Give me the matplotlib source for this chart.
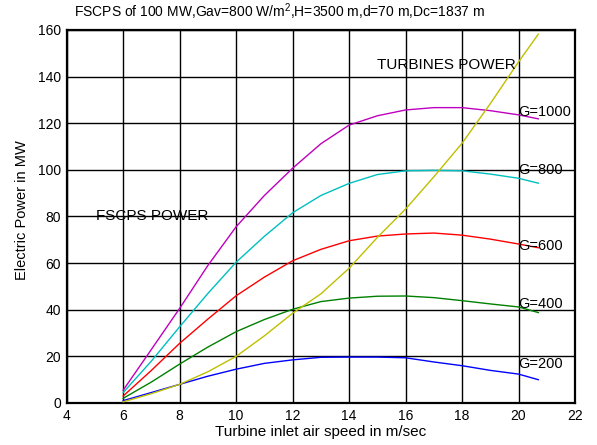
import matplotlib
matplotlib.use("Agg")
import matplotlib.pyplot as plt

plt.rcParams['font.family'] = ['Liberation Sans', 'DejaVu Sans']
plt.rcParams['mathtext.default'] = 'regular'

speed = [6, 7, 8, 9, 10, 11, 12, 13, 14, 15, 16, 17, 18, 19, 20, 20.7]
g200 = [1.0, 4.5, 8.0, 11.5, 14.5, 17.0, 18.5, 19.6, 19.7, 19.7, 19.4, 17.6, 16.0, 14.0, 12.4, 10.0]
g400 = [2.0, 9.0, 16.7, 24.0, 30.6, 35.8, 40.2, 43.5, 45.0, 45.8, 45.9, 45.2, 43.9, 42.5, 41.2, 38.8]
g600 = [3.0, 14.0, 25.6, 36.0, 46.0, 54.0, 61.0, 65.9, 69.6, 71.6, 72.5, 72.9, 72.0, 70.3, 68.2, 66.6]
g800 = [4.5, 18.0, 32.7, 47.0, 60.4, 71.5, 81.6, 89.0, 94.2, 98.0, 99.6, 99.8, 99.6, 98.2, 96.4, 94.3]
g1000 = [5.5, 23.0, 40.6, 59.0, 75.6, 89.0, 100.7, 111.2, 119.2, 123.2, 125.7, 126.7, 126.7, 125.4, 123.6, 121.9]
turbines = [0.5, 4.0, 8.0, 13.4, 20.0, 28.8, 38.5, 46.8, 57.8, 71.0, 83.2, 97.0, 111.4, 128.4, 146.3, 158.2]

series = [(g200, (0, 0, 1)), (g400, (0, 0.5, 0)), (g600, (1, 0, 0)),
          (g800, (0, 0.75, 0.75)), (g1000, (0.75, 0, 0.75)), (turbines, (0.75, 0.75, 0))]

g_labels = ['G=200', 'G=400', 'G=600', 'G=800', 'G=1000']
g_label_y = [16.7, 42.5, 67.4, 100.0, 124.8]

xticks = [4, 6, 8, 10, 12, 14, 16, 18, 20, 22]
yticks = [0, 20, 40, 60, 80, 100, 120, 140, 160]

fig = plt.figure(figsize=(5.97, 4.45), dpi=100)
ax = fig.add_axes([66.7 / 597, 1 - 403 / 445, (575 - 66.7) / 597, (403 - 30) / 445])

for vals, col in series:
    ax.plot(speed, vals, color=col, linewidth=1.0, zorder=3)

ax.set_xlim(4, 22)
ax.set_ylim(0, 160)
ax.set_xticks(xticks)
ax.set_yticks(yticks)
ax.grid(True, color='black', linewidth=1.0, linestyle='-')
ax.set_axisbelow(True)
ax.tick_params(direction='in', labelsize=10, top=True, right=True, length=0, pad=4)
for sp in ax.spines.values():
    sp.set_linewidth(1.6)

for lab, yv in zip(g_labels, g_label_y):
    ax.text(20.0, yv, lab, fontsize=10.5, va='center', ha='left', zorder=4)

ax.text(5.05, 80.2, 'FSCPS POWER', fontsize=11, va='center', ha='left')
ax.text(15.0, 145, 'TURBINES POWER', fontsize=11, va='center', ha='left')

ax.set_xlabel('Turbine inlet air speed in m/sec', fontsize=11, labelpad=2)
fig.text(22 / 597, 1 - 210 / 445, 'Electric Power in MW', fontsize=10.5,
         rotation=90, ha='center', va='center')
fig.text(280 / 597, 1 - 12 / 445, 'FSCPS of 100 MW,Gav=800 W/m$^2$,H=3500 m,d=70 m,Dc=1837 m',
         fontsize=10, ha='center', va='center')

fig.savefig('out.png', dpi=100)
